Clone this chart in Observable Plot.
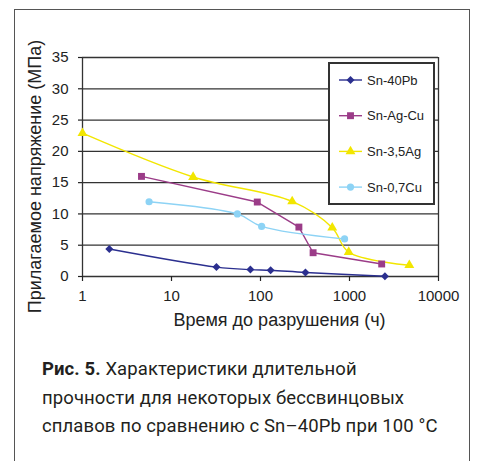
<!DOCTYPE html>
<html>
<head>
<meta charset="utf-8">
<script src="https://cdn.jsdelivr.net/npm/d3@7"></script>
<script src="https://cdn.jsdelivr.net/npm/@observablehq/plot@0.6"></script>
<style>
  html, body { margin: 0; padding: 0; background: #fff; }
  #wrap { position: relative; width: 479px; height: 461px; overflow: hidden; }
  #frame { position: absolute; left: 14px; top: 9px; width: 456px; height: 470px; border: 1.5px solid #555; box-sizing: border-box; }
  #chart { position: absolute; left: 0; top: 0; }
  #caption { position: absolute; left: 42px; top: 355px; width: 430px; white-space: nowrap; font-family: Roboto, "Noto Sans", sans-serif; font-size: 18.5px; line-height: 28.5px; color: #231f20; letter-spacing: 0.1px; }
  #caption b { font-weight: 700; }
</style>
</head>
<body>
<div id="wrap">
  <div id="frame"></div>
  <div id="chart"></div>
  <div id="caption"><b>Рис. 5.</b> Характеристики длительной<br>прочности для некоторых бессвинцовых<br>сплавов по сравнению с Sn–40Pb при 100 °C</div>
</div>
<script>
// ---- data ----
const seriesNames = ["Sn-40Pb", "Sn-Ag-Cu", "Sn-3,5Ag", "Sn-0,7Cu"];
const seriesColors = ["#2b2f8f", "#9b3c88", "#f2e600", "#8dd3f5"];
const seriesSymbols = ["diamond2", "square", "triangle", "circle"];

const pbHours   = [2, 32, 77, 130, 320, 2500];
const pbStress  = [4.4, 1.5, 1.1, 1.0, 0.65, 0.05];
const sacHours  = [4.6, 92, 270, 390, 2300];
const sacStress = [16, 11.9, 7.9, 3.8, 2.0];
const agHours   = [1, 17.5, 227, 640, 980, 4700];
const agStress  = [22.9, 15.9, 12, 7.8, 3.9, 1.8];
const cuHours   = [5.6, 55, 103, 880];
const cuStress  = [11.95, 10, 8, 6];

const xTicks = [1, 10, 100, 1000, 10000];
const yTicks = [0, 5, 10, 15, 20, 25, 30, 35];
const xTitle = "Время до разрушения (ч)";
const yTitle = "Прилагаемое напряжение (МПа)";

const rows = [];
[[pbHours, pbStress], [sacHours, sacStress], [agHours, agStress], [cuHours, cuStress]].forEach(([h, s], i) => {
  h.forEach((v, j) => rows.push({series: seriesNames[i], hours: v, stress: s[j]}));
});
const bySeries = name => rows.filter(d => d.series === name);
const curves = ["catmull-rom", "linear", "catmull-rom", "catmull-rom"];
const radii = [3.6, 3.9, 3.7, 3.6];

const font = "'Liberation Sans', Arial, sans-serif";

const marks = [
  Plot.ruleY(yTicks, {stroke: "#333", strokeWidth: 1.3}),
  Plot.ruleX([10000], {stroke: "#333", strokeWidth: 1.3}),
  Plot.axisY({ticks: yTicks, tickSize: 4, tickPadding: 10, label: null, fontSize: 15, stroke: "#222", strokeWidth: 1.2}),
  Plot.axisX({ticks: xTicks, tickFormat: d => String(d), tickSize: 5, tickPadding: 9, label: null, fontSize: 15, strokeWidth: 1.2}),
  Plot.ruleX([1], {stroke: "#333", strokeWidth: 1.3}),
];
seriesNames.forEach((name, i) => {
  marks.push(Plot.line(bySeries(name), {x: "hours", y: "stress", stroke: seriesColors[i], strokeWidth: 1.4, curve: curves[i]}));
});
seriesNames.forEach((name, i) => {
  marks.push(Plot.dot(bySeries(name), {x: "hours", y: "stress", fill: seriesColors[i], symbol: () => seriesSymbols[i], r: radii[i], stroke: "none"}));
});
marks.push(Plot.text([xTitle], {frameAnchor: "bottom", textAnchor: "middle", lineAnchor: "middle", dx: 19, dy: 44, fontSize: 18, fill: "#222"}));
marks.push(Plot.text([yTitle], {frameAnchor: "left", textAnchor: "middle", lineAnchor: "middle", rotate: -90, dx: -47, dy: 9.5, fontSize: 18, fill: "#222"}));

const chart = Plot.plot({
  width: 479,
  height: 340,
  marginLeft: 82,
  marginRight: 41,
  marginTop: 57,
  marginBottom: 64,
  style: {fontFamily: font, color: "#222", background: "transparent", overflow: "visible"},
  x: {type: "log", domain: [1, 10000]},
  y: {domain: [0, 35]},
  symbol: {domain: seriesSymbols, range: seriesSymbols},
  marks
});
document.getElementById("chart").appendChild(chart);

// ---- legend inside the plot area ----
const svg = d3.select(chart);
const lg = svg.append("g").attr("class", "legend").attr("text-anchor", "start");
lg.append("rect").attr("x", 329).attr("y", 63).attr("width", 105).attr("height", 141)
  .attr("fill", "#fff").attr("stroke", "#333").attr("stroke-width", 2);
const symMap = {diamond2: d3.symbolDiamond2, square: d3.symbolSquare, triangle: d3.symbolTriangle, circle: d3.symbolCircle};
seriesNames.forEach((name, i) => {
  const y = 80 + i * 35.7;
  const g = lg.append("g");
  g.append("line").attr("x1", 339).attr("x2", 362).attr("y1", y).attr("y2", y)
    .attr("stroke", seriesColors[i]).attr("stroke-width", 1.4);
  g.append("path").attr("transform", `translate(350.5,${y})`)
    .attr("d", d3.symbol(symMap[seriesSymbols[i]], Math.PI * radii[i] * radii[i])())
    .attr("fill", seriesColors[i]);
  g.append("text").attr("x", 367).attr("y", y).attr("dy", "0.35em").attr("text-anchor", "start")
    .attr("font-size", 13).attr("fill", "#222").attr("font-family", font).text(name);
});
</script>
</body>
</html>
